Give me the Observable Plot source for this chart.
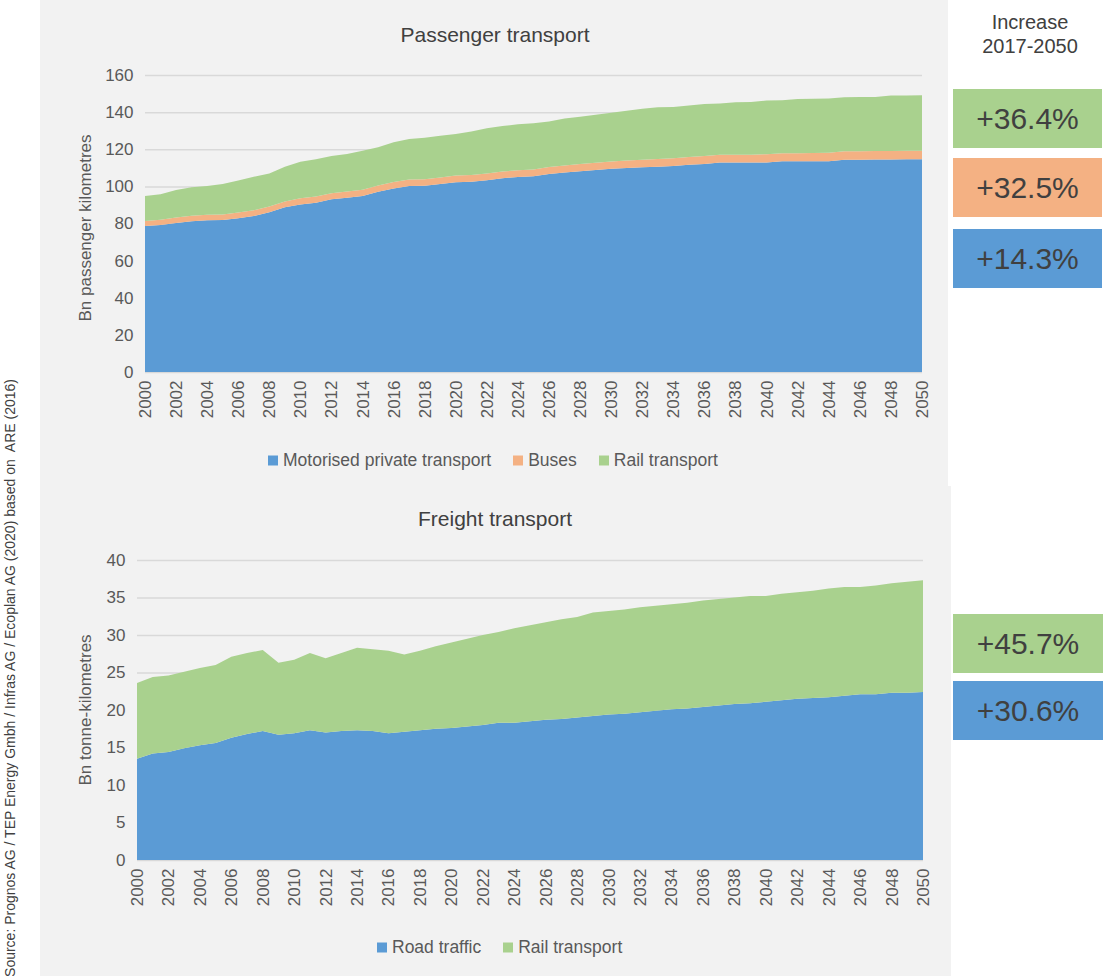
<!DOCTYPE html>
<html><head><meta charset="utf-8">
<script src="https://cdn.jsdelivr.net/npm/d3@7"></script>
<script src="https://cdn.jsdelivr.net/npm/@observablehq/plot@0.6"></script>
<style>
body{margin:0;background:#fff;font-family:"Liberation Sans",Arial,sans-serif;}
#page{position:relative;width:1107px;height:976px;overflow:hidden;background:#fff;}
.panel{position:absolute;background:#f2f2f2;}
.title{position:absolute;font-size:21px;color:#404040;transform:translate(-50%,-50%);white-space:nowrap;}
.rot{position:absolute;transform:translate(-50%,-50%) rotate(-90deg);white-space:nowrap;}
.ylab{font-size:17px;color:#595959;}
.legend{position:absolute;font-size:17.5px;color:#595959;display:flex;align-items:center;transform:translateY(-50%);white-space:nowrap;}
.legend .item{display:flex;align-items:center;margin-right:22px;}
.legend .sw{width:10px;height:10px;margin-right:5px;}
.box{position:absolute;color:#404040;font-size:30px;display:flex;align-items:center;justify-content:center;}
.hdr{position:absolute;font-size:20px;color:#404040;text-align:center;line-height:24px;}
.chart{position:absolute;}
</style></head>
<body><div id="page"></div>
<script>
// ---------- data ----------
const years = [2000,2001,2002,2003,2004,2005,2006,2007,2008,2009,2010,2011,2012,2013,2014,2015,2016,2017,2018,2019,2020,2021,2022,2023,2024,2025,2026,2027,2028,2029,2030,2031,2032,2033,2034,2035,2036,2037,2038,2039,2040,2041,2042,2043,2044,2045,2046,2047,2048,2049,2050];
const yearTicks = [2000,2002,2004,2006,2008,2010,2012,2014,2016,2018,2020,2022,2024,2026,2028,2030,2032,2034,2036,2038,2040,2042,2044,2046,2048,2050];
const passengerYTicks = [0,20,40,60,80,100,120,140,160];
const freightYTicks = [0,5,10,15,20,25,30,35,40];

const passengerSeries = ["Motorised private transport","Buses","Rail transport"];
const motorised = [78.7,79.2,80.3,81.2,81.7,81.9,82.8,84.0,86.0,88.7,90.3,91.2,93.0,93.9,94.8,97.1,98.8,100.2,100.4,101.3,102.2,102.5,103.3,104.4,105.1,105.4,106.7,107.5,108.2,108.8,109.5,109.9,110.3,110.6,111.0,111.6,112.1,112.8,112.8,112.8,112.9,113.5,113.5,113.5,113.6,114.4,114.4,114.5,114.5,114.6,114.6];
const buses = [2.7,2.8,2.9,3.0,3.0,3.0,3.1,3.1,3.2,3.2,3.3,3.3,3.3,3.4,3.4,3.4,3.5,3.5,3.5,3.5,3.6,3.6,3.6,3.6,3.6,3.7,3.7,3.8,3.8,3.9,3.9,4.0,4.0,4.1,4.1,4.2,4.2,4.2,4.3,4.3,4.4,4.4,4.4,4.5,4.5,4.5,4.5,4.6,4.6,4.6,4.6];
const railPassenger = [13.4,13.7,14.9,15.3,15.5,16.4,17.2,18.1,17.8,18.7,19.7,20.1,20.1,20.2,21.0,20.6,21.5,21.8,22.3,22.5,22.4,23.4,24.4,24.5,24.8,24.9,24.5,25.2,25.5,25.9,26.3,26.9,27.5,27.9,27.7,27.8,28.1,27.6,28.2,28.4,28.9,28.5,29.2,29.2,29.2,29.1,29.2,29.1,29.8,29.8,29.9];

const freightSeries = ["Road traffic","Rail transport"];
const road = [13.5,14.2,14.4,14.9,15.3,15.6,16.3,16.8,17.2,16.7,16.9,17.3,17.0,17.2,17.3,17.2,16.9,17.1,17.3,17.5,17.6,17.8,18.0,18.3,18.3,18.5,18.7,18.8,19.0,19.2,19.4,19.5,19.7,19.9,20.1,20.2,20.4,20.6,20.8,20.9,21.1,21.3,21.5,21.6,21.7,21.9,22.1,22.1,22.3,22.3,22.4];
const railFreight = [10.1,10.2,10.2,10.2,10.3,10.4,10.8,10.8,10.8,9.6,9.8,10.3,9.9,10.4,11.0,10.9,11.0,10.3,10.6,11.0,11.4,11.7,12.0,12.1,12.6,12.8,13.0,13.3,13.4,13.8,13.8,13.9,14.0,14.0,14.0,14.1,14.2,14.2,14.2,14.3,14.1,14.2,14.2,14.3,14.5,14.5,14.3,14.5,14.6,14.8,14.9];

const passengerIncrease = ["+36.4%","+32.5%","+14.3%"];
const freightIncrease = ["+45.7%","+30.6%"];

const passengerColors = ["#5b9bd5","#f4b183","#a9d18e"];
const freightColors = ["#5b9bd5","#a9d18e"];

const sourceText = "Source: Prognos AG / TEP Energy Gmbh / Infras AG / Ecoplan AG (2020) based on&nbsp; ARE (2016)";

// ---------- helpers ----------
function toLong(names, arrays){
  return names.flatMap((s,i)=>years.map((y,j)=>({year:y, series:s, value:arrays[i][j]})));
}
const page = document.getElementById("page");
function el(cls, css, html){
  const d=document.createElement("div"); d.className=cls; Object.assign(d.style,css); if(html!=null) d.innerHTML=html; page.appendChild(d); return d;
}
const FONT = "'Liberation Sans', Arial, sans-serif";

function makeChart({names, arrays, colors, yTicks, yMax, width, height, ml, mr, mt, mb}){
  const data = toLong(names, arrays);
  return Plot.plot({
    width, height, marginLeft:ml, marginRight:mr, marginTop:mt, marginBottom:mb,
    style:{background:"transparent", fontSize:"17px", color:"#595959", fontFamily:FONT},
    x:{domain:[2000,2050]},
    y:{domain:[0,yMax]},
    color:{domain:names, range:colors},
    marks:[
      Plot.ruleY(yTicks,{stroke:"#d9d9d9", strokeWidth:1.5}),
      Plot.areaY(data,{x:"year", y:"value", fill:"series", order:names}),
      Plot.axisY({ticks:yTicks, tickSize:0, tickPadding:12, label:null}),
      Plot.axisX({ticks:yearTicks, tickFormat:d=>String(d), tickRotate:-90, tickSize:0, tickPadding:8, label:null})
    ]
  });
}

// ---------- panels ----------
el("panel",{left:"40px",top:"0px",width:"908px",height:"487px"});
el("panel",{left:"40px",top:"486px",width:"911px",height:"490px"});

// passenger
el("title",{left:"495px",top:"35px"},"Passenger transport");
const c1 = makeChart({names:passengerSeries, arrays:[motorised,buses,railPassenger], colors:passengerColors,
  yTicks:passengerYTicks, yMax:160, width:908, height:380, ml:105, mr:26, mt:20, mb:63});
const w1 = el("chart",{left:"40px",top:"55px"}); w1.appendChild(c1);
el("rot ylab",{left:"86px",top:"228px"},"Bn passenger kilometres");
const lg1 = el("legend",{left:"268px",top:"460px"});
passengerSeries.forEach((s,i)=>{ lg1.innerHTML += `<div class="item"><div class="sw" style="background:${passengerColors[i]}"></div>${s}</div>`; });

// freight
el("title",{left:"495px",top:"519px"},"Freight transport");
const c2 = makeChart({names:freightSeries, arrays:[road,railFreight], colors:freightColors,
  yTicks:freightYTicks, yMax:40, width:911, height:380, ml:97, mr:28, mt:20, mb:60});
const w2 = el("chart",{left:"40px",top:"540px"}); w2.appendChild(c2);
el("rot ylab",{left:"86px",top:"710px"},"Bn tonne-kilometres");
const lg2 = el("legend",{left:"377px",top:"947px"});
freightSeries.forEach((s,i)=>{ lg2.innerHTML += `<div class="item"><div class="sw" style="background:${freightColors[i]}"></div>${s}</div>`; });

// right column
el("hdr",{left:"955px",top:"10px",width:"150px"},"Increase<br>2017-2050");
const pBoxTops=[89,158,229];
const pBoxColors=["#a9d18e","#f4b183","#5b9bd5"];
passengerIncrease.forEach((t,i)=>el("box",{left:"953px",top:pBoxTops[i]+"px",width:"149px",height:"59px",background:pBoxColors[i]},t));
const fBoxTops=[614,681];
const fBoxColors=["#a9d18e","#5b9bd5"];
freightIncrease.forEach((t,i)=>el("box",{left:"953px",top:fBoxTops[i]+"px",width:"150px",height:"59px",background:fBoxColors[i]},t));

// source
el("rot",{left:"10px",top:"678px",fontSize:"14px",color:"#404040",fontFamily:"'Liberation Sans Narrow','Liberation Sans',Arial,sans-serif"},sourceText);
</script></body></html>
